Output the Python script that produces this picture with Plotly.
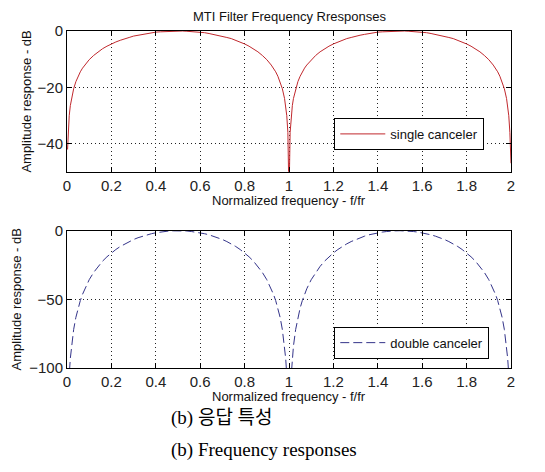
import plotly.graph_objects as go

# ---------------- data ----------------
freq = [0.0025, 0.005, 0.01, 0.015, 0.02, 0.03, 0.04, 0.05, 0.06, 0.07, 0.08,
        0.10, 0.12, 0.14, 0.16, 0.18, 0.20, 0.22, 0.24, 0.26, 0.28, 0.30,
        0.32, 0.34, 0.36, 0.38, 0.40, 0.42, 0.44, 0.46, 0.48, 0.50, 0.52,
        0.54, 0.56, 0.58, 0.60, 0.62, 0.64, 0.66, 0.68, 0.70, 0.72, 0.74,
        0.76, 0.78, 0.80, 0.82, 0.84, 0.86, 0.88, 0.90,
        0.92, 0.93, 0.94, 0.95, 0.96, 0.97, 0.98, 0.985, 0.99, 0.995, 1.0,
        1.005, 1.01, 1.015, 1.02, 1.03, 1.04, 1.05, 1.06, 1.07, 1.08,
        1.10, 1.12, 1.14, 1.16, 1.18, 1.20, 1.22, 1.24, 1.26, 1.28, 1.30,
        1.32, 1.34, 1.36, 1.38, 1.40, 1.42, 1.44, 1.46, 1.48, 1.50, 1.52,
        1.54, 1.56, 1.58, 1.60, 1.62, 1.64, 1.66, 1.68, 1.70, 1.72, 1.74,
        1.76, 1.78, 1.80, 1.82, 1.84, 1.86, 1.88, 1.90,
        1.92, 1.93, 1.94, 1.95, 1.96, 1.97, 1.98, 1.985, 1.99, 1.995, 1.9985, 2.0]

single_db = [-42.1, -36.1, -30.1, -26.5, -24.0, -20.5, -18.0, -16.1, -14.5, -13.2, -12.1,
             -10.2, -8.7, -7.4, -6.3, -5.4, -4.6, -3.9, -3.3, -2.7, -2.3, -1.8,
             -1.5, -1.2, -0.9, -0.6, -0.4, -0.3, -0.2, -0.1, 0.0, 0.0, 0.0,
             -0.1, -0.2, -0.3, -0.4, -0.6, -0.9, -1.2, -1.5, -1.8, -2.3, -2.7,
             -3.3, -3.9, -4.6, -5.4, -6.3, -7.4, -8.7, -10.2,
             -12.1, -13.2, -14.5, -16.1, -18.0, -20.5, -24.0, -26.5, -30.1, -36.1, -60.0,
             -36.1, -30.1, -26.5, -24.0, -20.5, -18.0, -16.1, -14.5, -13.2, -12.1,
             -10.2, -8.7, -7.4, -6.3, -5.4, -4.6, -3.9, -3.3, -2.7, -2.3, -1.8,
             -1.5, -1.2, -0.9, -0.6, -0.4, -0.3, -0.2, -0.1, 0.0, 0.0, 0.0,
             -0.1, -0.2, -0.3, -0.4, -0.6, -0.9, -1.2, -1.5, -1.8, -2.3, -2.7,
             -3.3, -3.9, -4.6, -5.4, -6.3, -7.4, -8.7, -10.2,
             -12.1, -13.2, -14.5, -16.1, -18.0, -20.5, -24.0, -26.5, -30.1, -36.1, -44.0, -47.0]

double_db = [-140.0, -126.0, -105.2, -92.9, -84.1, -71.9, -63.1, -56.4, -50.9, -46.3, -42.3,
             -35.7, -30.4, -26.0, -22.2, -19.0, -16.2, -13.7, -11.5, -9.6, -7.9, -6.4,
             -5.1, -4.0, -3.0, -2.2, -1.5, -1.0, -0.6, -0.2, -0.1, 0.0, -0.1,
             -0.2, -0.6, -1.0, -1.5, -2.2, -3.0, -4.0, -5.1, -6.4, -7.9, -9.6,
             -11.5, -13.7, -16.2, -19.0, -22.2, -26.0, -30.4, -35.7,
             -42.3, -46.3, -50.9, -56.4, -63.1, -71.9, -84.1, -92.9, -105.2, -126.0, -150.0,
             -126.0, -105.2, -92.9, -84.1, -71.9, -63.1, -56.4, -50.9, -46.3, -42.3,
             -35.7, -30.4, -26.0, -22.2, -19.0, -16.2, -13.7, -11.5, -9.6, -7.9, -6.4,
             -5.1, -4.0, -3.0, -2.2, -1.5, -1.0, -0.6, -0.2, -0.1, 0.0, -0.1,
             -0.2, -0.6, -1.0, -1.5, -2.2, -3.0, -4.0, -5.1, -6.4, -7.9, -9.6,
             -11.5, -13.7, -16.2, -19.0, -22.2, -26.0, -30.4, -35.7,
             -42.3, -46.3, -50.9, -56.4, -63.1, -71.9, -84.1, -92.9, -105.2, -126.0, -140.0, -150.0]

x_tickvals = [0, 0.2, 0.4, 0.6, 0.8, 1.0, 1.2, 1.4, 1.6, 1.8, 2.0]
x_ticktext = ["0", "0.2", "0.4", "0.6", "0.8", "1", "1.2", "1.4", "1.6", "1.8", "2"]
y1_tickvals = [-40, -20, 0]
y2_tickvals = [-100, -50, 0]

title_text = "MTI Filter Frequency Rresponses"
xlabel_text = "Normalized frequency - f/fr"
ylabel_text = "Amplitude response - dB"
caption_ko = "(b) 응답 특성"
caption_en = "(b) Frequency responses"

# ---------------- figure ----------------
SANS = "Liberation Sans, Arial, sans-serif"
fig = go.Figure()

fig.add_trace(go.Scatter(x=freq, y=single_db, mode="lines", name="single canceler",
                         line=dict(color="#c0282d", width=1), xaxis="x", yaxis="y",
                         legend="legend"))
fig.add_trace(go.Scatter(x=freq, y=double_db, mode="lines", name="double canceler",
                         line=dict(color="#34348a", width=1, dash="9px,4px"),
                         xaxis="x2", yaxis="y2", legend="legend2"))

axis_style = dict(showline=True, linecolor="black", linewidth=1, mirror="allticks",
                  ticks="inside", ticklen=5, tickcolor="black",
                  showgrid=True, gridcolor="#222", griddash="1px,3px", gridwidth=1,
                  zeroline=False,
                  tickfont=dict(family=SANS, size=15, color="#222"))

fig.update_layout(
    width=545, height=472,
    margin=dict(l=67, r=34, t=31, b=104),
    paper_bgcolor="white", plot_bgcolor="white",
    xaxis=dict(domain=[0, 1], range=[0, 2], tickvals=x_tickvals, ticktext=x_ticktext,
               anchor="y", **axis_style),
    yaxis=dict(domain=[0.5825, 1], range=[-50, 0], tickvals=y1_tickvals,
               anchor="x", **axis_style),
    xaxis2=dict(domain=[0, 1], range=[0, 2], tickvals=x_tickvals, ticktext=x_ticktext,
                anchor="y2", **axis_style),
    yaxis2=dict(domain=[0, 0.4074], range=[-100, 0], tickvals=y2_tickvals,
                anchor="x2", **axis_style),
    legend=dict(x=0.602, y=0.742, xanchor="left", yanchor="top",
                bordercolor="black", borderwidth=1, bgcolor="white",
                font=dict(family=SANS, size=13, color="#111"), itemwidth=45),
    legend2=dict(x=0.602, y=0.1226, xanchor="left", yanchor="top",
                 bordercolor="black", borderwidth=1, bgcolor="white",
                 font=dict(family=SANS, size=13, color="#111"), itemwidth=45),
    showlegend=True,
)

ann_font = dict(family=SANS, size=13, color="#111")
annotations = [
    dict(text=title_text, x=0.5, y=1.0425, xref="paper", yref="paper",
         xanchor="center", yanchor="middle", showarrow=False, font=ann_font),
    dict(text=xlabel_text, x=0.5, y=0.4985, xref="paper", yref="paper",
         xanchor="center", yanchor="middle", showarrow=False, font=ann_font),
    dict(text=xlabel_text, x=0.5, y=-0.0831, xref="paper", yref="paper",
         xanchor="center", yanchor="middle", showarrow=False, font=ann_font),
    dict(text=ylabel_text, x=-0.0921, y=0.7908, xref="paper", yref="paper",
         xanchor="center", yanchor="middle", textangle=-90, showarrow=False, font=ann_font),
    dict(text=ylabel_text, x=-0.1146, y=0.2038, xref="paper", yref="paper",
         xanchor="center", yanchor="middle", textangle=-90, showarrow=False, font=ann_font),
    dict(text=caption_ko, x=0.229, y=-0.1484, xref="paper", yref="paper",
         xanchor="left", yanchor="middle", showarrow=False,
         font=dict(family="Liberation Serif, Noto Sans CJK KR, serif", size=19, color="black")),
    dict(text=caption_en, x=0.229, y=-0.2433, xref="paper", yref="paper",
         xanchor="left", yanchor="middle", showarrow=False,
         font=dict(family="Liberation Serif, Noto Sans CJK KR, serif", size=19, color="black")),
]
fig.update_layout(annotations=annotations)

fig.write_html("out.html",
               config={"displayModeBar": False},
               post_script="document.body.style.margin='0';document.body.style.overflow='hidden';")
